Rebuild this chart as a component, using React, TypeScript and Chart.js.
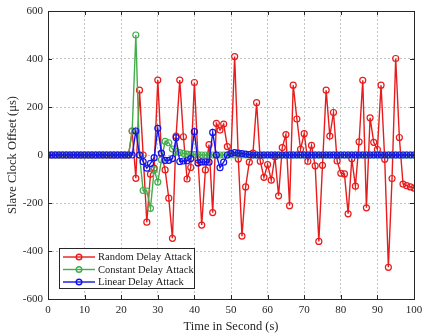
import React, { useEffect, useRef } from 'react';
import { Chart, registerables } from 'chart.js';

Chart.register(...registerables);

const times = [
  0, 1, 2, 3, 4, 5, 6, 7, 8, 9, 10, 11, 12, 13, 14, 15, 16, 17, 18, 19, 20,
  21, 22, 23, 24, 25, 26, 27, 28, 29, 30, 31, 32, 33, 34, 35, 36, 37, 38, 39, 40,
  41, 42, 43, 44, 45, 46, 47, 48, 49, 50, 51, 52, 53, 54, 55, 56, 57, 58, 59, 60,
  61, 62, 63, 64, 65, 66, 67, 68, 69, 70, 71, 72, 73, 74, 75, 76, 77, 78, 79, 80,
  81, 82, 83, 84, 85, 86, 87, 88, 89, 90, 91, 92, 93, 94, 95, 96, 97, 98, 99, 100,
];

const randomDelay = [
  0, 0, 0, 0, 0, 0, 0, 0, 0, 0, 0, 0, 0, 0, 0, 0, 0, 0, 0, 0, 0, 0, 0,
  100, -97, 270, 0, -280, -80, -55, 312, 5, -62, -180, -347, 79, 312, 76, -100, -52, 302,
  -20, -292, -62, 43, -240, 132, 104, 129, 35, 5, 410, -17, -338, -133, -30, 8, 218, -26, -93, -40,
  -105, -7, -170, 31, 85, -211, 291, 150, 24, 89, -26, 40, -45, -360, -43, 270, 79, 177, -25, -76,
  -79, -245, -16, -130, 55, 311, -220, 155, 53, 23, 291, -18, -468, -98, 402, 73, -121, -128, -133, -138,
];

const constantDelay = [
  0, 0, 0, 0, 0, 0, 0, 0, 0, 0, 0, 0, 0, 0, 0, 0, 0, 0, 0, 0, 0, 0, 0,
  100, 500, 0, -148, -150, -222, -61, -113, -20, 57, 51, 25, 15, 10, 7, 4, 3, 2,
  1, 0, 0, 0, 0, 0, 0, 0, 0, 0, 0, 0, 0, 0, 0, 0, 0, 0, 0, 0,
  0, 0, 0, 0, 0, 0, 0, 0, 0, 0, 0, 0, 0, 0, 0, 0, 0, 0, 0, 0,
  0, 0, 0, 0, 0, 0, 0, 0, 0, 0, 0, 0, 0, 0, 0, 0, 0, 0, 0, 0,
];

const linearDelay = [
  0, 0, 0, 0, 0, 0, 0, 0, 0, 0, 0, 0, 0, 0, 0, 0, 0, 0, 0, 0, 0, 0, 0,
  0, 100, 0, -28, -55, -35, -11, 111, 8, -22, -22, -15, 72, -27, -25, -24, -15, 97,
  -33, -29, -29, -30, 94, 0, -53, -30, 0, 7, 10, 8, 6, 4, 2, 0, 0, 0, 0, 0,
  0, 0, 0, 0, 0, 0, 0, 0, 0, 0, 0, 0, 0, 0, 0, 0, 0, 0, 0, 0,
  0, 0, 0, 0, 0, 0, 0, 0, 0, 0, 0, 0, 0, 0, 0, 0, 0, 0, 0, 0,
];

const xTicks = [0, 10, 20, 30, 40, 50, 60, 70, 80, 90, 100];
const yTicks = [-600, -400, -200, 0, 200, 400, 600];

const seriesNames = ['Random Delay Attack', 'Constant Delay Attack', 'Linear Delay Attack'];
const seriesColors = ['#e81c1c', '#44ad4c', '#1414e6'];

const SERIF = '"Liberation Serif", "Times New Roman", serif';

const framePlugin = {
  id: 'matlabFrame',
  afterDraw(chart: any) {
    const { ctx, chartArea, scales } = chart;
    const { left, right, top, bottom } = chartArea;
    const x = scales.x;
    const y = scales.y;
    ctx.save();
    ctx.strokeStyle = '#262626';
    ctx.lineWidth = 1;
    ctx.setLineDash([]);
    ctx.beginPath();
    const tl = 4;
    for (const v of xTicks) {
      const px = Math.round(x.getPixelForValue(v)) + 0.5;
      ctx.moveTo(px, bottom);
      ctx.lineTo(px, bottom - tl);
      ctx.moveTo(px, top);
      ctx.lineTo(px, top + tl);
    }
    for (const v of yTicks) {
      const py = Math.round(y.getPixelForValue(v)) + 0.5;
      ctx.moveTo(left, py);
      ctx.lineTo(left + tl, py);
      ctx.moveTo(right, py);
      ctx.lineTo(right - tl, py);
    }
    ctx.stroke();
    ctx.strokeRect(Math.round(left) + 0.5, Math.round(top) + 0.5, Math.round(right - left), Math.round(bottom - top));

    // legend box
    const bw = 135;
    const bh = 40;
    const bx = Math.round(left + 11) + 0.5;
    const by = Math.round(bottom - 11 - bh) + 0.5;
    ctx.fillStyle = '#ffffff';
    ctx.fillRect(bx, by, bw, bh);
    ctx.strokeStyle = '#262626';
    ctx.strokeRect(bx, by, bw, bh);
    ctx.font = `10.5px ${SERIF}`;
    ctx.textBaseline = 'middle';
    ctx.textAlign = 'left';
    seriesNames.forEach((name, i) => {
      const cy = by + 8.5 + i * 12.5;
      ctx.strokeStyle = seriesColors[i];
      ctx.lineWidth = 1.4;
      ctx.beginPath();
      ctx.moveTo(bx + 3.5, cy);
      ctx.lineTo(bx + 35.5, cy);
      ctx.stroke();
      ctx.beginPath();
      ctx.arc(bx + 19.5, cy, 2.8, 0, Math.PI * 2);
      ctx.stroke();
      ctx.fillStyle = '#1a1a1a';
      ctx.fillText(name, bx + 38.5, cy + 0.5);
    });
    ctx.restore();
  },
};

function makeSeries(values: number[]) {
  return times.map((t, i) => ({ x: t, y: values[i] }));
}

export default function App() {
  const canvasRef = useRef<HTMLCanvasElement | null>(null);

  useEffect(() => {
    const canvas = canvasRef.current;
    if (!canvas) return;
    const common = {
      showLine: true,
      fill: false,
      borderWidth: 1.4,
      pointRadius: 3,
      pointBorderWidth: 1.2,
      pointBackgroundColor: 'rgba(255,255,255,0)',
      tension: 0,
    };
    const chart = new Chart(canvas, {
      type: 'line',
      data: {
        datasets: [
          {
            ...common,
            label: seriesNames[0],
            data: makeSeries(randomDelay),
            borderColor: seriesColors[0],
            pointBorderColor: seriesColors[0],
            order: 2,
          },
          {
            ...common,
            label: seriesNames[1],
            data: makeSeries(constantDelay),
            borderColor: seriesColors[1],
            pointBorderColor: seriesColors[1],
            order: 1,
          },
          {
            ...common,
            label: seriesNames[2],
            data: makeSeries(linearDelay),
            borderColor: seriesColors[2],
            pointBorderColor: seriesColors[2],
            order: 0,
          },
        ],
      },
      options: {
        animation: false,
        responsive: false,
        devicePixelRatio: 1,
        layout: { padding: { top: 11, right: 8, left: 0, bottom: 0 } },
        plugins: {
          legend: { display: false },
          tooltip: { enabled: false },
        },
        scales: {
          x: {
            type: 'linear',
            min: 0,
            max: 100,
            ticks: {
              stepSize: 10,
              padding: 5,
              color: '#262626',
              font: { family: SERIF, size: 11 },
              maxRotation: 0,
            },
            grid: { color: '#c4c4c4', drawTicks: false, lineWidth: 1 },
            border: { display: false, dash: [2, 2] },
            title: {
              display: true,
              text: 'Time in Second (s)',
              color: '#262626',
              font: { family: SERIF, size: 12.5 },
              padding: { top: 0, bottom: 2 },
            },
            afterFit: (s: any) => {
              s.height = 37;
              s.paddingLeft = 0;
              s.paddingRight = 0;
            },
          },
          y: {
            type: 'linear',
            min: -600,
            max: 600,
            ticks: {
              stepSize: 200,
              padding: 5,
              color: '#262626',
              font: { family: SERIF, size: 11 },
            },
            grid: { color: '#c4c4c4', drawTicks: false, lineWidth: 1 },
            border: { display: false, dash: [2, 2] },
            title: {
              display: true,
              text: 'Slave Clock Offset (μs)',
              color: '#262626',
              font: { family: SERIF, size: 12.5 },
              padding: { top: 5, bottom: 0 },
            },
            afterFit: (s: any) => {
              s.width = 48;
              s.paddingTop = 0;
              s.paddingBottom = 0;
            },
          },
        },
      },
      plugins: [framePlugin],
    } as any);
    return () => {
      chart.destroy();
    };
  }, []);

  return (
    <div style={{ position: 'absolute', left: 0, top: 0, width: 422, height: 336, background: '#ffffff' }}>
      <canvas ref={canvasRef} width={422} height={336} style={{ display: 'block', width: 422, height: 336 }} />
    </div>
  );
}
